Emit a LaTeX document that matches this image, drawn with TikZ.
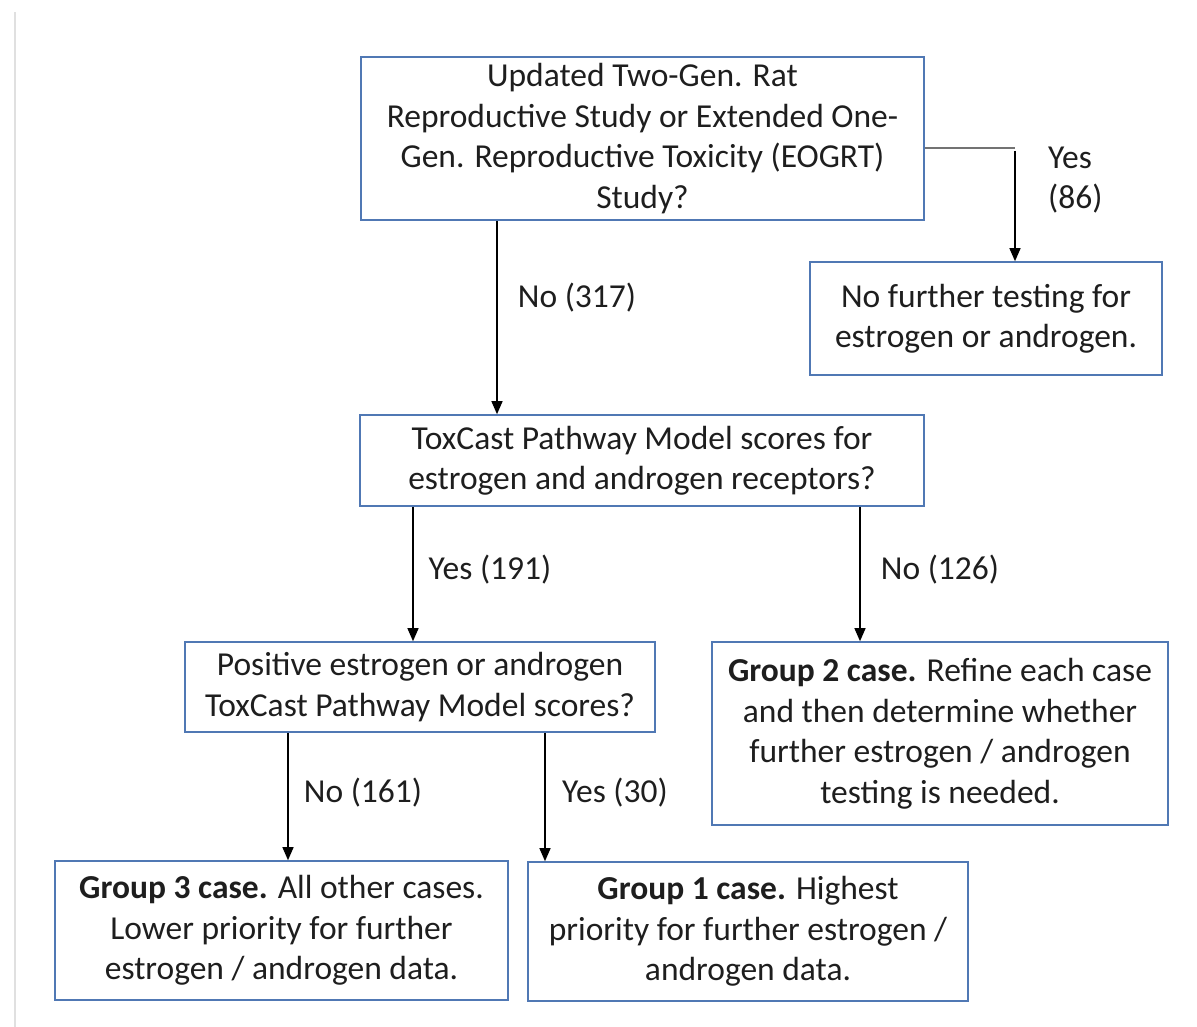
\documentclass[tikz,border=0pt]{standalone}
\usepackage{fontspec}
\setmainfont{Carlito}
\usetikzlibrary{arrows.meta}
\definecolor{boxblue}{RGB}{80,120,180}
\definecolor{txt}{RGB}{30,30,30}
\begin{document}
\begin{tikzpicture}[x=1pt,y=-1pt,
  box/.style={draw=boxblue, line width=1.6pt, align=center, text=txt, inner sep=0pt,
    font=\fontsize{33.5}{40.5}\selectfont},
  arr/.style={draw=black, line width=1.3pt, -{Triangle[length=13pt,width=11pt]}},
  lbl/.style={text=txt, font=\fontsize{33.5}{40.5}\selectfont, inner sep=0pt}]
\useasboundingbox (0,0) rectangle (1197,1027);
\draw[black!12, line width=2pt] (15,12) -- (15,1027);

\node[box, minimum width=563pt, minimum height=163pt] (b1) at (642.5,138.5)
  {Updated Two-Gen. Rat\\Reproductive Study or Extended One-\\Gen. Reproductive Toxicity (EOGRT)\\Study?};
\node[box, minimum width=352pt, minimum height=113pt] (b2) at (986,318.5)
  {No further testing for\\estrogen or androgen.};
\node[box, minimum width=564pt, minimum height=91pt] (b3) at (642,460.5)
  {ToxCast Pathway Model scores for\\estrogen and androgen receptors?};
\node[box, minimum width=470pt, minimum height=90pt] (b4) at (420,687)
  {Positive estrogen or androgen\\ToxCast Pathway Model scores?};
\node[box, minimum width=456pt, minimum height=183pt] (b5) at (940,733.5)
  {\textbf{Group 2 case.} Refine each case\\and then determine whether\\further estrogen / androgen\\testing is needed.};
\node[box, minimum width=453pt, minimum height=139pt] (b6) at (281.5,930.5)
  {\textbf{Group 3 case.} All other cases.\\Lower priority for further\\estrogen / androgen data.};
\node[box, minimum width=440pt, minimum height=139pt] (b7) at (748,931.5)
  {\textbf{Group 1 case.} Highest\\priority for further estrogen /\\androgen data.};

\coordinate (x1) at (497,0);
\coordinate (x2) at (413,0);
\coordinate (x3) at (860,0);
\coordinate (x4) at (288,0);
\coordinate (x5) at (545,0);
\coordinate (yy) at (0,148);
\coordinate (cY) at (1015,148);

\draw[arr] (b1.south -| x1) -- (b3.north -| x1);
\draw[arr] (b3.south -| x2) -- (b4.north -| x2);
\draw[arr] (b3.south -| x3) -- (b5.north -| x3);
\draw[arr] (b4.south -| x4) -- (b6.north -| x4);
\draw[arr] (b4.south -| x5) -- (b7.north -| x5);
\draw[black!55, line width=1.6pt] (b1.east |- yy) -- (cY);
\draw[arr] ([yshift=-3pt]cY) -- (b2.north -| cY);

\node[lbl] (l1) at (577,298) {No (317)};
\node[lbl] (l2) at (490,570) {Yes (191)};
\node[lbl] (l3) at (940,570) {No (126)};
\node[lbl] (l4) at (363,793) {No (161)};
\node[lbl] (l5) at (615,793) {Yes (30)};
\node[lbl, align=left, anchor=west] (l6) at (1048,180) {Yes\\(86)};
\end{tikzpicture}
\end{document}
